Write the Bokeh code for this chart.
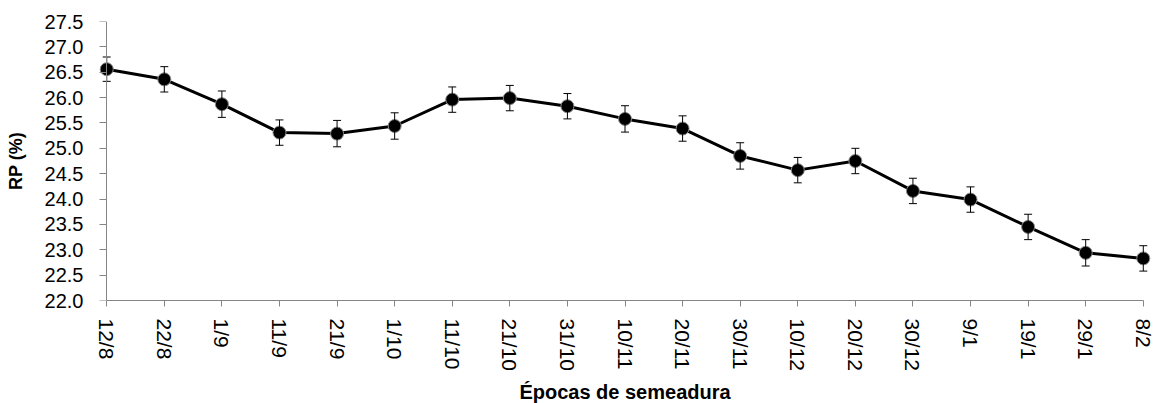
from bokeh.plotting import figure
from bokeh.models import Range1d, FixedTicker, Whisker, TeeHead, ColumnDataSource, NumeralTickFormatter, LinearAxis
from bokeh.embed import file_html
from bokeh.resources import INLINE

dates = ["12/8", "22/8", "1/9", "11/9", "21/9", "1/10", "11/10", "21/10", "31/10", "10/11",
         "20/11", "30/11", "10/12", "20/12", "30/12", "9/1", "19/1", "29/1", "8/2"]
rp = [26.56, 26.36, 25.87, 25.31, 25.29, 25.44, 25.96, 25.99, 25.83, 25.58,
      25.39, 24.85, 24.57, 24.75, 24.16, 23.99, 23.45, 22.94, 22.83]
err = [0.24, 0.25, 0.26, 0.25, 0.26, 0.26, 0.25, 0.25, 0.25, 0.26,
       0.25, 0.26, 0.25, 0.25, 0.25, 0.25, 0.25, 0.26, 0.25]
y_ticks = [22.0, 22.5, 23.0, 23.5, 24.0, 24.5, 25.0, 25.5, 26.0, 26.5, 27.0, 27.5]

x = list(range(len(dates)))
src = ColumnDataSource(dict(
    x=x, y=rp,
    upper=[v + e for v, e in zip(rp, err)],
    lower=[v - e for v, e in zip(rp, err)],
))

FONT = "Liberation Sans"
AX = "#868686"

p = figure(frame_width=1055, frame_height=279, min_border_left=97, min_border_top=21,
           min_border_bottom=102, min_border_right=4,
           x_range=Range1d(-0.16, len(dates) - 1 + 0.16), y_range=Range1d(22.0, 27.5),
           output_backend="svg", toolbar_location=None, tools="")
p.outline_line_color = None
p.xgrid.visible = False
p.ygrid.visible = False

# x axis
xa = p.xaxis[0]
xa.ticker = FixedTicker(ticks=x)
xa.major_label_overrides = {i: d for i, d in enumerate(dates)}
xa.major_label_orientation = "vertical"
xa.bounds = (0, len(dates) - 1)
xa.axis_line_color = AX
xa.major_tick_line_color = AX
xa.major_tick_in = 0
xa.major_tick_out = 6
xa.minor_tick_line_color = None
xa.major_label_standoff = 12
xa.major_label_text_font = FONT
xa.major_label_text_font_size = "21px"
xa.major_label_text_color = "black"
xa.axis_label = "Épocas de semeadura"
xa.axis_label_text_font = FONT
xa.axis_label_text_font_style = "bold"
xa.axis_label_text_font_size = "20px"
xa.axis_label_text_color = "black"
xa.axis_label_standoff = 7

# y axis line and ticks, placed at the first point
ya = p.yaxis[0]
ya.ticker = FixedTicker(ticks=y_ticks)
ya.fixed_location = 0
ya.axis_line_color = AX
ya.major_tick_line_color = AX
ya.major_tick_in = 0
ya.major_tick_out = 7
ya.minor_tick_line_color = None
ya.major_label_text_alpha = 0
ya.major_label_text_font_size = "1px"

# y axis labels
yl = LinearAxis(ticker=FixedTicker(ticks=y_ticks),
                formatter=NumeralTickFormatter(format="0.0"))
yl.axis_line_color = None
yl.major_tick_line_color = None
yl.minor_tick_line_color = None
yl.major_tick_in = 0
yl.major_tick_out = 0
yl.major_label_standoff = 14
yl.major_label_text_font = FONT
yl.major_label_text_font_size = "20px"
yl.major_label_text_color = "black"
yl.axis_label = "RP (%)"
yl.axis_label_text_font = FONT
yl.axis_label_text_font_style = "bold"
yl.axis_label_text_font_size = "18px"
yl.axis_label_text_color = "black"
yl.axis_label_standoff = 16
p.add_layout(yl, "left")

wh = Whisker(base="x", upper="upper", lower="lower", source=src,
             line_color="black", line_width=1,
             upper_head=TeeHead(size=8, line_color="black", line_width=1),
             lower_head=TeeHead(size=8, line_color="black", line_width=1),
             level="glyph")
p.add_layout(wh)

p.line("x", "y", source=src, line_color="black", line_width=3)
p.scatter("x", "y", source=src, size=13, fill_color="black", line_color="#8c8c8c", line_width=1)

open("out.html", "w").write(file_html(p, INLINE))
